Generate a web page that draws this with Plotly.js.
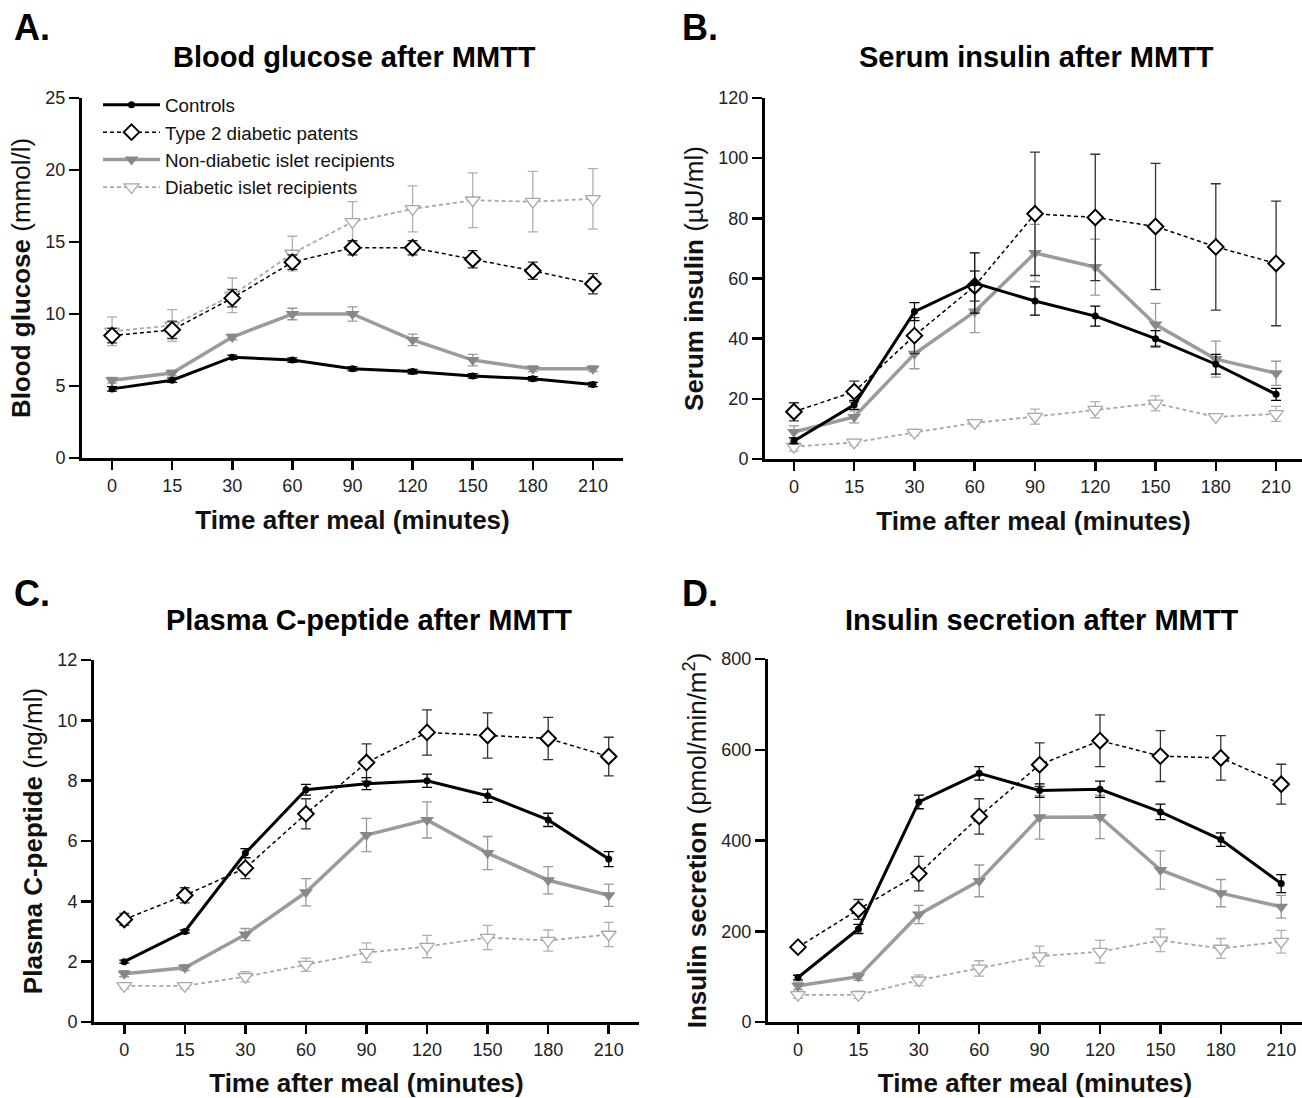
<!DOCTYPE html>
<html>
<head>
<meta charset="utf-8">
<script src="https://cdn.plot.ly/plotly-3.0.1.min.js"></script>
<style>html,body{margin:0;padding:0;background:#fff}#chart{width:1302px;height:1098px}</style>
</head>
<body>
<div id="chart"></div>
<script>
// ---- data ----
const times = ['0','15','30','60','90','120','150','180','210'];
const seriesNames = ['Controls','Type 2 diabetic patents','Non-diabetic islet recipients','Diabetic islet recipients'];

// A. Blood glucose (mmol/l)
const gluCtrl      = [4.8, 5.4, 7.0, 6.8, 6.2, 6.0, 5.7, 5.5, 5.1];
const gluCtrlErr   = [0.15,0.15,0.15,0.15,0.15,0.15,0.15,0.15,0.15];
const gluT2D       = [8.5, 8.9, 11.1, 13.6, 14.6, 14.6, 13.8, 13.0, 12.1];
const gluT2DErr    = [0.5, 0.6, 0.6, 0.5, 0.5, 0.5, 0.6, 0.6, 0.7];
const gluNonD      = [5.4, 5.9, 8.4, 10.0, 10.0, 8.2, 6.8, 6.2, 6.2];
const gluNonDErr   = [0.2, 0.2, 0.2, 0.4, 0.5, 0.4, 0.4, 0.2, 0.2];
const gluDiab      = [8.8, 9.2, 11.3, 14.2, 16.4, 17.3, 17.9, 17.8, 18.0];
const gluDiabErr   = [1.0, 1.1, 1.2, 1.2, 1.4, 1.6, 1.9, 2.1, 2.1];

// B. Serum insulin (µU/ml)
const insCtrl      = [6, 18, 49, 58.5, 52.5, 47.5, 40, 31.5, 21.5];
const insCtrlErr   = [1, 1.5, 3, 10, 4.7, 3.3, 2.7, 3.3, 2];
const insT2D       = [15.7, 22.4, 41, 57.5, 81.5, 80.3, 77.3, 70.5, 65];
const insT2DErr    = [3, 3.5, 6, 5, 20.5, 21, 21, 21, 20.7];
const insNonD      = [9, 14, 35, 49, 68.5, 63.8, 44.7, 33.2, 28.5];
const insNonDErr   = [2, 2, 5, 7, 9.5, 9.3, 7, 6, 4];
const insDiab      = [4.1, 5.5, 8.8, 12, 14.1, 16.4, 18.5, 14, 15];
const insDiabErr   = [1.5, 1, 1, 1, 2.5, 2.7, 2.5, 0.5, 2.5];

// C. Plasma C-peptide (ng/ml)
const cpCtrl       = [2.0, 3.0, 5.6, 7.7, 7.9, 8.0, 7.5, 6.7, 5.4];
const cpCtrlErr    = [0.05, 0.05, 0.15, 0.18, 0.2, 0.22, 0.22, 0.22, 0.25];
const cpT2D        = [3.4, 4.2, 5.1, 6.9, 8.6, 9.6, 9.5, 9.4, 8.8];
const cpT2DErr     = [0.2, 0.25, 0.35, 0.5, 0.62, 0.75, 0.75, 0.7, 0.64];
const cpNonD       = [1.6, 1.8, 2.9, 4.3, 6.2, 6.7, 5.6, 4.7, 4.2];
const cpNonDErr    = [0.1, 0.1, 0.2, 0.45, 0.55, 0.6, 0.55, 0.45, 0.37];
const cpDiab       = [1.2, 1.2, 1.5, 1.9, 2.3, 2.5, 2.8, 2.7, 2.9];
const cpDiabErr    = [0.1, 0.1, 0.17, 0.22, 0.32, 0.37, 0.4, 0.35, 0.4];

// D. Insulin secretion (pmol/min/m2)
const secCtrl      = [98, 205, 485, 548, 510, 513, 463, 402, 305];
const secCtrlErr   = [5, 10, 15, 15, 15, 18, 17, 15, 20];
const secT2D       = [165, 248, 327, 453, 567, 620, 586, 582, 524];
const secT2DErr    = [8, 22, 38, 39, 48, 57, 56, 49, 44];
const secNonD      = [80, 100, 237, 311, 451, 452, 335, 284, 254];
const secNonDErr   = [8, 8, 20, 35, 48, 48, 42, 30, 25];
const secDiab      = [60, 60, 92, 118, 145, 155, 180, 162, 177];
const secDiabErr   = [8, 8, 12, 17, 22, 25, 25, 22, 25];

// ---- styles ----
const FONT = 'Liberation Sans, Arial, sans-serif';
const styles = [
  {rank:1, line:{color:'#000', width:3}, marker:{symbol:'circle', size:7, color:'#000'}, err:'#000'},
  {rank:2, line:{color:'#000', width:1.5, dash:'4px,3px'}, marker:{symbol:'diamond', size:12, color:'#fff', line:{color:'#000', width:2}}, err:'#333'},
  {rank:3, line:{color:'#9b9b9b', width:3.5}, marker:{symbol:'triangle-down', size:12, color:'#888'}, err:'#999'},
  {rank:4, line:{color:'#a8a8a8', width:1.8, dash:'4px,3px'}, marker:{symbol:'triangle-down', size:13, color:'#fff', line:{color:'#a8a8a8', width:1.3}}, err:'#b0b0b0'}
];
const drawOrder = [3, 2, 1, 0];

function panelTraces(sets, xa, ya, showLegend) {
  return drawOrder.map(i => ({
    type:'scatter', mode:'lines+markers',
    x: times, y: sets[i][0], xaxis: xa, yaxis: ya,
    name: seriesNames[i], legendrank: styles[i].rank, showlegend: showLegend,
    line: styles[i].line, marker: styles[i].marker, cliponaxis:false,
    error_y: {type:'data', array: sets[i][1], visible:true, color: styles[i].err, thickness:1.3, width:5}
  }));
}

const data = [].concat(
  panelTraces([[gluCtrl,gluCtrlErr],[gluT2D,gluT2DErr],[gluNonD,gluNonDErr],[gluDiab,gluDiabErr]], 'x', 'y', true),
  panelTraces([[insCtrl,insCtrlErr],[insT2D,insT2DErr],[insNonD,insNonDErr],[insDiab,insDiabErr]], 'x2', 'y2', false),
  panelTraces([[cpCtrl,cpCtrlErr],[cpT2D,cpT2DErr],[cpNonD,cpNonDErr],[cpDiab,cpDiabErr]], 'x3', 'y3', false),
  panelTraces([[secCtrl,secCtrlErr],[secT2D,secT2DErr],[secNonD,secNonDErr],[secDiab,secDiabErr]], 'x4', 'y4', false)
);

const W = 1302, H = 1098;
function xax(x0, x1, r, anchor) {
  return {domain:[x0/W, Math.min(1, x1/W)], anchor:anchor, type:'category', range:r, showline:true, linewidth:3, linecolor:'#000',
    ticks:'outside', ticklen:9, tickwidth:2.5, tickcolor:'#000', showgrid:false, zeroline:false,
    tickfont:{family:FONT, size:18, color:'#222'},
    title:{text:'<b>Time after meal (minutes)</b>', font:{family:FONT, size:26, color:'#111'}, standoff:17}};
}
function yax(y0, y1, maxv, step, titleText, anchor) {
  const tv = []; for (let v = 0; v <= maxv; v += step) tv.push(v);
  return {domain:[1 - y1/H, 1 - y0/H], anchor:anchor, range:[0, maxv], tickvals:tv, showline:true, linewidth:3, linecolor:'#000',
    ticks:'outside', ticklen:10, tickwidth:2.5, tickcolor:'#000', showgrid:false, zeroline:false,
    tickfont:{family:FONT, size:18, color:'#222'},
    title:{text:titleText, font:{family:FONT, size:26, color:'#111'}, standoff:8}};
}

const layout = {
  width:W, height:H, margin:{l:0, r:0, t:0, b:0}, paper_bgcolor:'#fff', plot_bgcolor:'#fff',
  font:{family:FONT, color:'#111'},
  xaxis:  xax(82, 623, [-0.5, 8.5], 'y'),
  yaxis:  yax(98, 458, 25, 5, '<b>Blood glucose</b> (mmol/l)', 'x'),
  xaxis2: xax(765, 1302, [-0.48, 8.43], 'y2'),
  yaxis2: yax(98, 459, 120, 20, '<b>Serum insulin</b> (µU/ml)', 'x2'),
  xaxis3: xax(94, 639, [-0.5, 8.5], 'y3'),
  yaxis3: yax(660, 1022, 12, 2, '<b>Plasma C-peptide</b> (ng/ml)', 'x3'),
  xaxis4: xax(768, 1302, [-0.497, 8.344], 'y4'),
  yaxis4: yax(659, 1022, 800, 200, '<b>Insulin secretion</b> (pmol/min/m<sup>2</sup>)', 'x4'),
  showlegend:true,
  legend:{x:98/W, y:1-86/H, xanchor:'left', yanchor:'top', font:{family:FONT, size:18.8, color:'#111'},
    bgcolor:'rgba(0,0,0,0)', itemwidth:57, tracegroupgap:0},
  annotations:[
    {text:'<b>A.</b>', x:12/W, y:1-28/H, xref:'paper', yref:'paper', xanchor:'left', yanchor:'middle', showarrow:false, font:{family:FONT, size:36, color:'#000'}},
    {text:'<b>B.</b>', x:680/W, y:1-28/H, xref:'paper', yref:'paper', xanchor:'left', yanchor:'middle', showarrow:false, font:{family:FONT, size:36, color:'#000'}},
    {text:'<b>C.</b>', x:12/W, y:1-593/H, xref:'paper', yref:'paper', xanchor:'left', yanchor:'middle', showarrow:false, font:{family:FONT, size:36, color:'#000'}},
    {text:'<b>D.</b>', x:680/W, y:1-593/H, xref:'paper', yref:'paper', xanchor:'left', yanchor:'middle', showarrow:false, font:{family:FONT, size:36, color:'#000'}},
    {text:'<b>Blood glucose after MMTT</b>', x:354/W, y:1-57/H, xref:'paper', yref:'paper', xanchor:'center', yanchor:'middle', showarrow:false, font:{family:FONT, size:29, color:'#000'}},
    {text:'<b>Serum insulin after MMTT</b>', x:1036/W, y:1-57/H, xref:'paper', yref:'paper', xanchor:'center', yanchor:'middle', showarrow:false, font:{family:FONT, size:29, color:'#000'}},
    {text:'<b>Plasma C-peptide after MMTT</b>', x:369/W, y:1-620/H, xref:'paper', yref:'paper', xanchor:'center', yanchor:'middle', showarrow:false, font:{family:FONT, size:29, color:'#000'}},
    {text:'<b>Insulin secretion after MMTT</b>', x:1041/W, y:1-620/H, xref:'paper', yref:'paper', xanchor:'center', yanchor:'middle', showarrow:false, font:{family:FONT, size:29, color:'#000'}}
  ]
};

Plotly.newPlot('chart', data, layout, {displayModeBar:false, staticPlot:true});
</script>
</body>
</html>
